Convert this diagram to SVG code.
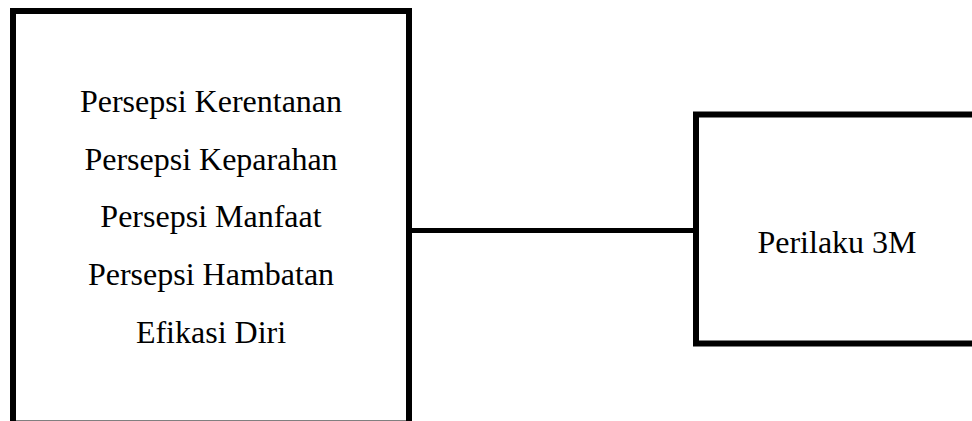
<svg xmlns="http://www.w3.org/2000/svg" width="972" height="421" viewBox="0 0 972 421">
<style>
.box{fill:#fff;stroke:#000;stroke-width:6}
.t{font-family:"Liberation Serif","Times New Roman",serif;font-size:32px;fill:#000;text-anchor:middle}
.c{stroke:#000;stroke-width:5;fill:none}
</style>
<rect width="972" height="421" fill="#fff"/>
<g id="connectors">
<line class="c" x1="409" y1="230.5" x2="696" y2="230.5"/>
</g>
<g id="node-factors">
<rect class="box" x="13" y="11" width="396" height="412.5"/>
<text class="t" x="211" y="112">Persepsi Kerentanan</text>
<text class="t" x="211" y="170">Persepsi Keparahan</text>
<text class="t" x="211" y="227">Persepsi Manfaat</text>
<text class="t" x="211" y="285">Persepsi Hambatan</text>
<text class="t" x="211" y="343">Efikasi Diri</text>
</g>
<g id="node-behavior">
<rect class="box" x="696" y="114.5" width="290" height="229"/>
<text class="t" x="837" y="253">Perilaku 3M</text>
</g>
</svg>
